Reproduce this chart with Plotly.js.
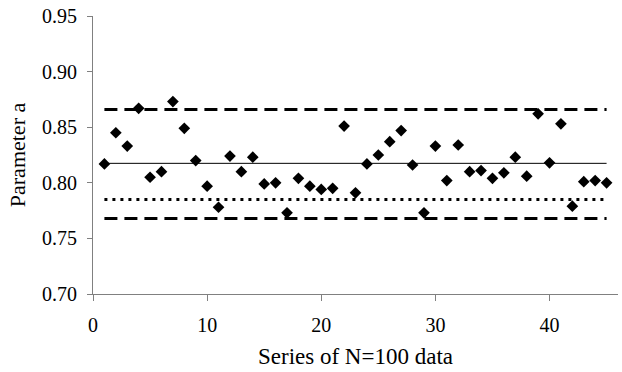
<!DOCTYPE html>
<html>
<head>
<meta charset="utf-8">
<script src="https://cdn.plot.ly/plotly-3.0.1.min.js"></script>
<style>html,body{margin:0;padding:0;background:#fff;}#chart{width:622px;height:372px;}</style>
</head>
<body>
<div id="chart"></div>
<script>
var seriesIndex = [1,2,3,4,5,6,7,8,9,10,11,12,13,14,15,16,17,18,19,20,21,22,23,24,25,26,27,28,29,30,31,32,33,34,35,36,37,38,39,40,41,42,43,44,45];
var paramA = [0.817,0.845,0.833,0.867,0.805,0.810,0.873,0.849,0.820,0.797,0.778,0.824,0.810,0.823,0.799,0.800,0.773,0.804,0.797,0.794,0.795,0.851,0.791,0.817,0.825,0.837,0.847,0.816,0.773,0.833,0.802,0.834,0.810,0.811,0.804,0.809,0.823,0.806,0.862,0.818,0.853,0.779,0.801,0.802,0.800];
var lineX = [1, 45];
var upperLimit = [0.866, 0.866];
var meanLevel = [0.8175, 0.8175];
var dottedLevel = [0.785, 0.785];
var lowerLimit = [0.768, 0.768];
var xTicks = [0, 10, 20, 30, 40];
var yTicks = [0.70, 0.75, 0.80, 0.85, 0.90, 0.95];
var yTickText = ['0.70', '0.75', '0.80', '0.85', '0.90', '0.95'];

var fam = 'Liberation Serif';
var font = {family: fam, color: '#000', size: 20};

var traces = [
  {x: lineX, y: upperLimit, mode: 'lines', line: {color: '#000', width: 3, dash: '13px,7px'}, hoverinfo: 'skip'},
  {x: lineX, y: lowerLimit, mode: 'lines', line: {color: '#000', width: 3, dash: '13px,7px'}, hoverinfo: 'skip'},
  {x: lineX, y: meanLevel, mode: 'lines', line: {color: '#000', width: 1}, hoverinfo: 'skip'},
  {x: lineX, y: dottedLevel, mode: 'lines', line: {color: '#000', width: 3, dash: '3px,5px'}, hoverinfo: 'skip'},
  {x: seriesIndex, y: paramA, mode: 'markers', marker: {symbol: 'diamond', size: 9, color: '#000'}}
];

var layout = {
  width: 622, height: 372,
  margin: {l: 93, r: 4, t: 16, b: 78},
  paper_bgcolor: '#fff', plot_bgcolor: '#fff',
  showlegend: false,
  font: font,
  xaxis: {
    range: [0, 46], tickmode: 'array', tickvals: xTicks, ticktext: xTicks.map(String),
    showgrid: false, zeroline: false, showline: true, linecolor: '#808080', linewidth: 1,
    ticks: 'outside', ticklen: 6, tickcolor: '#808080', tickwidth: 1,
    tickfont: {family: fam, size: 20, color: '#000'}, ticklabelstandoff: 7,
    title: {text: 'Series of N=100 data', font: {family: fam, size: 23, color: '#000'}, standoff: 12}
  },
  yaxis: {
    range: [0.70, 0.95], tickmode: 'array', tickvals: yTicks, ticktext: yTickText,
    showgrid: false, zeroline: false, showline: true, linecolor: '#808080', linewidth: 1,
    ticks: 'outside', ticklen: 5, tickcolor: '#808080', tickwidth: 1,
    tickfont: {family: fam, size: 20, color: '#000'}, ticklabelstandoff: 6,
    title: {text: 'Parameter a', font: {family: fam, size: 22, color: '#000'}, standoff: 10}
  }
};

Plotly.newPlot('chart', traces, layout, {displayModeBar: false, staticPlot: true});
</script>
</body>
</html>
